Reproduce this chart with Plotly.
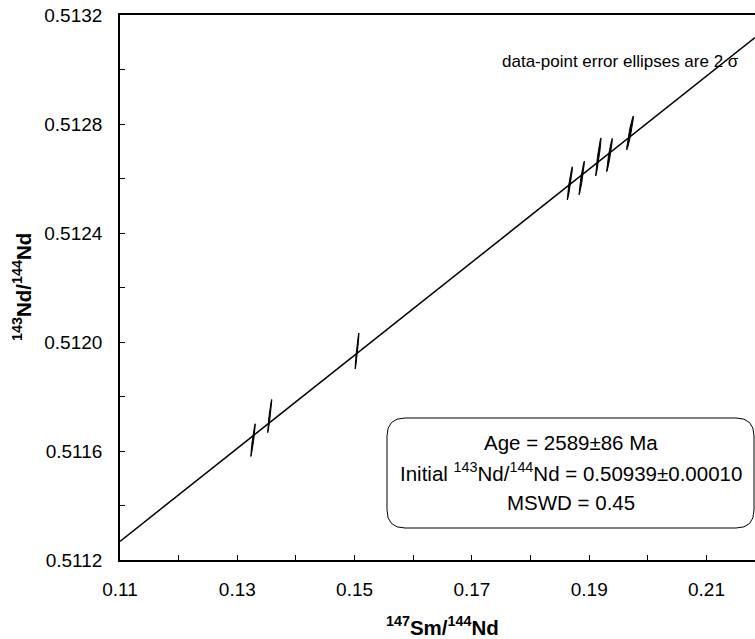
import numpy as np
import plotly.graph_objects as go

# 147Sm/144Nd vs 143Nd/144Nd analyses with 2-sigma errors and error correlation
sm_nd = [0.13268, 0.13552, 0.15041, 0.18669, 0.18872, 0.19155, 0.19346, 0.19696]
nd_nd = [0.511640, 0.511728, 0.511967, 0.512582, 0.512602, 0.512679, 0.512686, 0.512767]
sm_err2s = [0.00039, 0.00036, 0.00033, 0.00045, 0.00047, 0.00047, 0.00050, 0.00058]
nd_err2s = [0.000060, 0.000061, 0.000066, 0.000061, 0.000062, 0.000070, 0.000061, 0.000062]
err_rho = [0.95, 0.95, 0.95, 0.95, 0.95, 0.95, 0.95, 0.95]

# isochron result
age_ma = 2589
age_err = 86
init_ratio = 0.50939
init_err = 0.00010
mswd = 0.45
lambda_sm = 6.54e-12  # 147Sm decay constant, per year

x_ticks = [0.11, 0.13, 0.15, 0.17, 0.19, 0.21]
y_ticks = [0.5112, 0.5116, 0.5120, 0.5124, 0.5128, 0.5132]

X_RANGE = [0.11, 0.21827]
Y_RANGE = [0.5112, 0.5132]

FONT = "Liberation Sans, Arial, sans-serif"
W, H = 755, 639
ML, MR, MT, MB = 120, 0, 15, 79
PW, PH = W - ML - MR, H - MT - MB

fig = go.Figure()

# isochron line from the stated age and initial ratio
slope = np.exp(lambda_sm * age_ma * 1e6) - 1
lx = np.array(X_RANGE)
fig.add_trace(go.Scatter(x=lx, y=init_ratio + slope * lx, mode="lines",
                         line=dict(color="black", width=1.5),
                         hoverinfo="skip", showlegend=False))

# error ellipses
t = np.linspace(0, 2 * np.pi, 80)
for cx, cy, sx, sy, r in zip(sm_nd, nd_nd, sm_err2s, nd_err2s, err_rho):
    ex = cx + sx * np.cos(t)
    ey = cy + sy * (r * np.cos(t) + np.sqrt(1 - r * r) * np.sin(t))
    fig.add_trace(go.Scatter(x=ex, y=ey, mode="lines", fill="toself",
                             fillcolor="black",
                             line=dict(color="black", width=1),
                             hoverinfo="skip", showlegend=False))


def px_x(px):
    return (px - ML) / PW


def px_y(py):
    return (H - MB - py) / PH


# rounded result box
bx0, bx1, by0, by1, rad = 387, 754, 418, 528, 18
path = (
    f"M {px_x(bx0 + rad)} {px_y(by0)} "
    f"L {px_x(bx1 - rad)} {px_y(by0)} "
    f"Q {px_x(bx1)} {px_y(by0)} {px_x(bx1)} {px_y(by0 + rad)} "
    f"L {px_x(bx1)} {px_y(by1 - rad)} "
    f"Q {px_x(bx1)} {px_y(by1)} {px_x(bx1 - rad)} {px_y(by1)} "
    f"L {px_x(bx0 + rad)} {px_y(by1)} "
    f"Q {px_x(bx0)} {px_y(by1)} {px_x(bx0)} {px_y(by1 - rad)} "
    f"L {px_x(bx0)} {px_y(by0 + rad)} "
    f"Q {px_x(bx0)} {px_y(by0)} {px_x(bx0 + rad)} {px_y(by0)} Z"
)
fig.add_shape(type="path", path=path, xref="paper", yref="paper",
              line=dict(color="black", width=1), fillcolor="white", layer="above")

box_lines = [
    f"Age = {age_ma}±{age_err} Ma",
    f"Initial <sup>143</sup>Nd/<sup>144</sup>Nd = {init_ratio:.5f}±{init_err:.5f}",
    f"MSWD = {mswd}",
]
for i, txt in enumerate(box_lines):
    fig.add_annotation(text=txt, xref="paper", yref="paper",
                       x=px_x((bx0 + bx1) / 2), y=px_y(442 + 30 * i),
                       xanchor="center", yanchor="middle", showarrow=False,
                       font=dict(family=FONT, size=20.5, color="black"))

fig.add_annotation(text="data-point error ellipses are 2 σ", xref="paper", yref="paper",
                   x=px_x(741), y=px_y(61), xanchor="right", yanchor="middle",
                   showarrow=False, font=dict(family=FONT, size=17, color="black"))

# axis titles
fig.add_annotation(text="<b><sup>147</sup>Sm/<sup>144</sup>Nd</b>", xref="paper", yref="paper",
                   x=px_x(442), y=px_y(626), xanchor="center", yanchor="middle",
                   showarrow=False, font=dict(family=FONT, size=20.5, color="black"))
fig.add_annotation(text="<b><sup>143</sup>Nd/<sup>144</sup>Nd</b>", xref="paper", yref="paper",
                   x=px_x(22), y=px_y(287), xanchor="center", yanchor="middle",
                   textangle=-90, showarrow=False,
                   font=dict(family=FONT, size=20.5, color="black"))

axis_common = dict(showgrid=False, zeroline=False, showline=True, linecolor="black",
                   linewidth=1.7, ticks="inside", ticklen=5, tickwidth=1,
                   tickcolor="black",
                   tickfont=dict(family=FONT, size=19, color="black"))

fig.update_xaxes(range=X_RANGE, tickvals=x_ticks,
                 ticktext=[f"{v:.2f}" for v in x_ticks],
                 mirror=True, ticklabelstandoff=11,
                 minor=dict(dtick=0.01, tick0=0.11, ticks="inside", ticklen=5,
                            tickcolor="black", tickwidth=1),
                 **axis_common)
fig.update_yaxes(range=Y_RANGE, tickvals=y_ticks,
                 ticktext=[f"{v:.4f}" for v in y_ticks],
                 ticklabelstandoff=12,
                 minor=dict(dtick=0.0002, tick0=0.5112, ticks="inside", ticklen=5,
                            tickcolor="black", tickwidth=1),
                 **axis_common)

fig.update_layout(width=W, height=H, margin=dict(l=ML, r=MR, t=MT, b=MB),
                  paper_bgcolor="white", plot_bgcolor="white",
                  showlegend=False, font=dict(family=FONT, color="black"))

fig.write_html("out.html")
